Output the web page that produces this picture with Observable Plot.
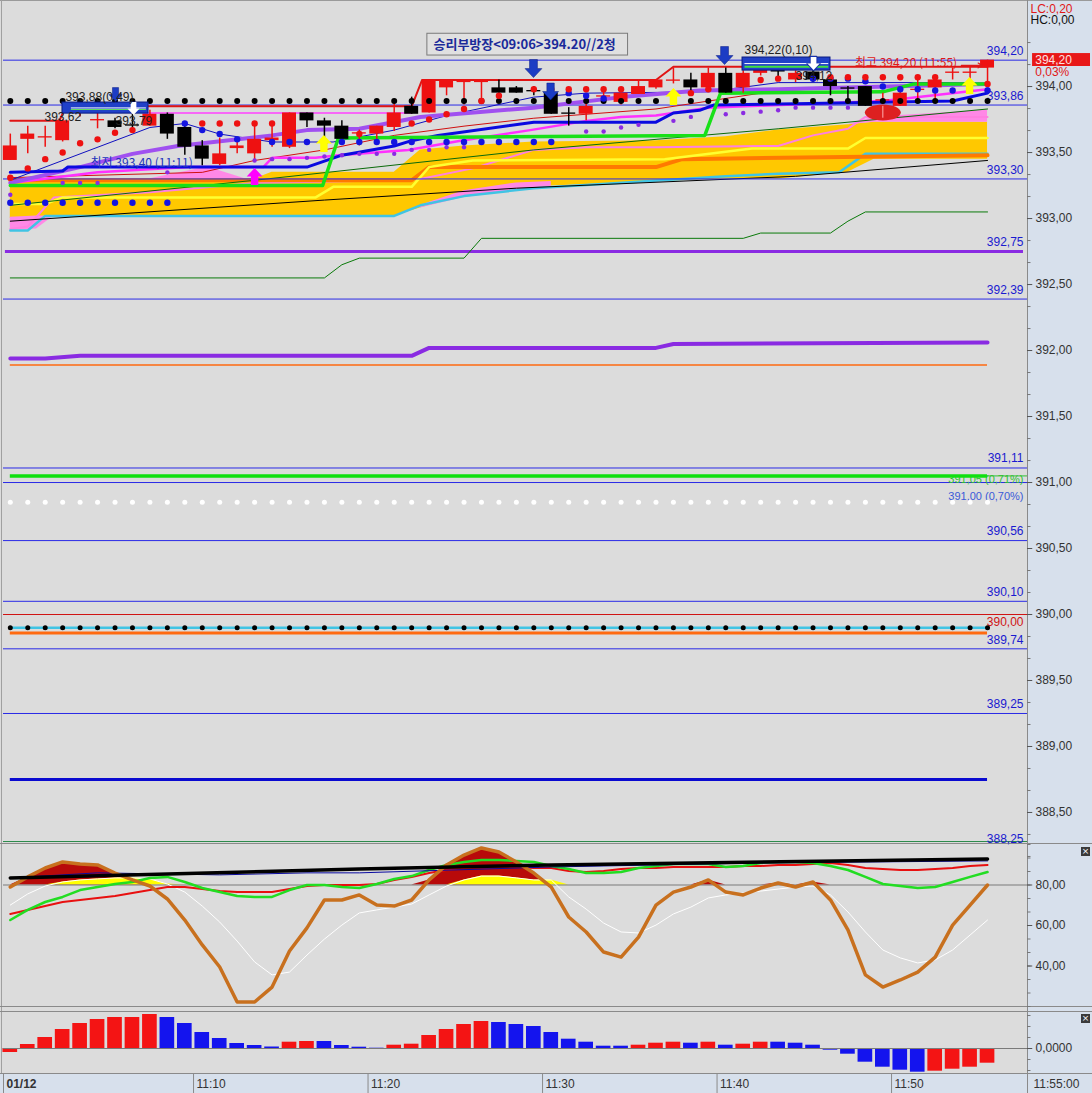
<!DOCTYPE html>
<html><head><meta charset="utf-8">
<script src="https://cdn.jsdelivr.net/npm/d3@7"></script>
<script src="https://cdn.jsdelivr.net/npm/@observablehq/plot@0.6"></script>
<style>
html,body{margin:0;padding:0;background:#dcdcdc;}
#wrap{position:relative;width:1092px;height:1093px;overflow:hidden;background:#dcdcdc;font-family:'Liberation Sans',Arial,sans-serif;}
#wrap svg{position:absolute;left:0;}
.bx{position:absolute;}
.xbtn{position:absolute;width:9px;height:9px;background:#3a3a3a;color:#fff;font:9px/9px 'DejaVu Sans',sans-serif;text-align:center;}
</style></head><body><div id="wrap"></div><script>
// ---------------- DATA ----------------
const barOpen  = [393.44,393.60,393.61,393.59,393.83,393.74,393.74,393.71,393.70,393.79,393.69,393.55,393.41,393.53,393.49,393.59,393.54,393.80,393.74,393.70,393.64,393.64,393.69,393.85,393.80,393.99,394.03,394.03,393.99,393.99,393.97,393.95,393.80,393.79,393.92,393.88,393.94,393.99,394.04,394.05,393.99,394.10,393.99,394.10,394.14,394.05,394.11,394.05,393.99,394.00,393.89,393.85,393.97,393.99,394.10,394.10,394.14];
const barClose = [393.55,393.64,393.62,393.74,393.85,393.75,393.69,393.70,393.79,393.64,393.54,393.45,393.49,393.55,393.60,393.61,393.80,393.74,393.70,393.60,393.65,393.70,393.80,393.79,394.05,394.05,394.05,394.05,393.95,393.95,393.96,393.79,393.79,393.85,393.93,393.95,394.00,394.05,394.05,393.99,394.10,393.95,394.10,394.14,394.11,394.10,394.05,394.00,393.98,393.85,393.90,393.95,393.98,394.05,394.11,394.11,394.20];
const barHigh  = [393.64,393.70,393.70,393.75,393.86,393.80,393.76,393.79,393.82,393.80,393.72,393.59,393.61,393.61,393.72,393.71,393.80,393.80,393.76,393.74,393.67,393.70,393.87,393.92,394.05,394.05,394.05,394.05,394.05,394.00,394.00,394.00,393.84,393.93,393.98,393.95,394.05,394.05,394.14,394.10,394.14,394.14,394.12,394.22,394.17,394.12,394.12,394.08,394.00,394.00,393.95,394.00,394.05,394.05,394.14,394.15,394.20];
const barLow   = [393.44,393.49,393.54,393.58,393.77,393.68,393.68,393.65,393.70,393.60,393.48,393.40,393.40,393.49,393.44,393.54,393.53,393.69,393.61,393.60,393.55,393.58,393.66,393.79,393.80,393.93,393.86,393.89,393.91,393.95,393.93,393.79,393.70,393.74,393.89,393.86,393.94,393.98,394.02,393.93,393.99,393.95,393.95,394.08,394.05,394.03,394.03,393.93,393.89,393.85,393.87,393.85,393.89,393.89,394.05,394.05,394.02];

// dot rows (bar index, price)
const redDotI = [0,1,2,3,4,5,6,7,11,12,13,14,15,20,23,24,25,26,27,28,30,31,32,33,34,35,39,40,43,44,47,48,49,50,51,52,53,56];
const redDotP = [393.31,393.38,393.45,393.50,393.57,393.60,393.65,393.67,393.72,393.72,393.72,393.72,393.72,393.64,393.72,393.75,393.79,393.83,393.89,393.93,393.98,393.98,393.98,393.98,393.98,393.98,393.95,393.98,394.05,394.06,394.07,394.07,394.07,394.07,394.07,394.07,394.07,394.02];
const blueDotI = [0,1,2,3,4,5,6,7,8,9,10,11,12,13,15,16,17,18,19,20,21,22,23,24,25,26,27,28,29,30,31,32,33,34,46,47,48,49,50,51,52,53,54,55,56];
const blueDotP = [393.12,393.12,393.12,393.12,393.12,393.12,393.12,393.12,393.12,393.12,393.72,393.67,393.64,393.60,393.58,393.58,393.58,393.58,393.58,393.58,393.58,393.58,393.58,393.58,393.58,393.58,393.58,393.58,393.58,393.58,393.58,393.95,393.93,393.91,394.06,394.06,394.06,394.04,394.00,393.98,393.98,393.97,393.97,393.97,393.97];
const purpleDotI = [0,3,4,5,9,14,15,16,17,18,19,20,21,22,23,24,25,26,33,34,35,36,38,39,41,42,43,44,45,46,47,48,56];
const purpleDotP = [393.18,393.27,393.27,393.27,393.35,393.44,393.45,393.45,393.46,393.47,393.48,393.49,393.49,393.49,393.52,393.52,393.54,393.54,393.66,393.66,393.69,393.71,393.74,393.77,393.79,393.80,393.81,393.82,393.84,393.84,393.84,393.84,393.98];
const blackDotP = 393.89;   // row of black dots on every bar
const whiteDotP = 390.85;   // row of white dots on every bar
const cyanDotP  = 389.90;   // cyan line with black dots

// cloud (gold) boundaries
const cloudI   = [0,3,14,15,22,23.5,26,30,37,41,44,48,49.5,56];
const cloudTop = [393.29,393.30,393.30,393.35,393.35,393.52,393.55,393.58,393.59,393.62,393.67,393.71,393.73,393.73];
const cloudBot = [393.00,393.02,393.02,393.02,393.02,393.08,393.17,393.24,393.28,393.30,393.30,393.35,393.45,393.45];
const pinkHumpI = [7.6,11.3,13.5], pinkHumpT = [393.29,393.39,393.30], pinkHumpB = [393.29,393.29,393.29];
const pinkLeftI = [0,1.5,2.5],     pinkLeftT = [393.01,393.02,393.02], pinkLeftB = [392.91,392.92,393.02];
const pinkMidI  = [23.5,26,29,31], pinkMidT  = [393.10,393.21,393.27,393.28], pinkMidB = [393.08,393.16,393.21,393.24];
const pinkRightI= [48,49.5,56],    pinkRightT= [393.71,393.77,393.82], pinkRightB = [393.71,393.73,393.73];

// lines (vertices: bar index, price)
const cOrangeI = [0,23,24,37,38.5,56],  cOrangeP = [393.29,393.29,393.39,393.39,393.45,393.48];
const cYellowI = [0,2,3,17.5,18.5,23,24,26.5,37.5,42.5,48,49,56];
const cYellowP = [393.11,393.11,393.16,393.16,393.24,393.24,393.39,393.44,393.45,393.53,393.53,393.61,393.61];
const cCyanI = [0,1,2,22,23.5,26,30,41,44,47.5,49,56];
const cCyanP = [392.91,392.91,393.02,393.02,393.10,393.17,393.23,393.32,393.34,393.35,393.49,393.49];
const cBlackI = [0,18,29,45,56], cBlackP = [392.98,393.14,393.23,393.32,393.44];
const cDkGreenI = [0,14,30,44,56], cDkGreenP = [393.10,393.29,393.52,393.68,393.83];
const cPinkI = [0,1,2.5,8,14,22,23.5,26.5,30,33,37,44,46,48,49,56];
const cPinkP = [392.92,392.94,393.16,393.20,393.27,393.29,393.30,393.38,393.52,393.54,393.54,393.55,393.63,393.68,393.77,393.77];
const greenStepI = [0,17.9,18.8,39.8,40.7,50,51.8,56], greenStepP = [393.25,393.25,393.61,393.63,393.95,393.96,394.02,394.02];
const purpleI = [0,4,7,9.6,15,17,20,23.5,30,35,39.5,44,56];
const purpleP = [393.27,393.39,393.49,393.55,393.63,393.67,393.68,393.77,393.84,393.92,393.97,393.98,394.02];
const blueThickI = [0,3,3.3,17,19,22,23,24.5,30,37,38,39.5,40.3,45,54,56];
const blueThickP = [393.35,393.36,393.39,393.39,393.48,393.55,393.59,393.63,393.73,393.73,393.80,393.82,393.86,393.87,393.89,393.95];
const blueThinI = [0,8,10,12,15,18.5,22,25,30,33,40,44,56];
const blueThinP = [393.29,393.69,393.72,393.64,393.58,393.58,393.67,393.78,393.92,393.95,393.96,394.03,394.03];
const magentaI = [0,5,10.2,14.5,15,17.5,18.8,22.8,25.8,29.8,33,35,37,40,44.1,46,50,56];
const magentaP = [393.27,393.35,393.39,393.39,393.46,393.46,393.48,393.52,393.59,393.67,393.74,393.77,393.78,393.84,393.86,393.87,393.89,393.98];
const magentaThinI = [7.6,23], magentaThinP = [393.80,393.80];
const redStepI = [0,2.8,3.2,23,23.6,37,38,56], redStepP = [393.74,393.74,393.85,393.85,394.05,394.05,394.15,394.15];
const redThinI = [0,11,14,18,22,26,30,37,40,44,56];
const redThinP = [393.31,393.35,393.44,393.52,393.63,393.70,393.76,393.83,393.89,393.97,394.03];
const lowGreenI = [0,18,19,20,26,27,42,43,47,48,49,56];
const lowGreenP = [392.55,392.55,392.65,392.70,392.70,392.85,392.85,392.89,392.89,392.98,393.05,393.05];
const lowPurpleI = [0,2,4,23,24,37,38,56], lowPurpleP = [391.94,391.94,391.96,391.96,392.02,392.02,392.05,392.06];
const lowOrangeP = 391.89, lowGreenThickP = 391.05, lowOrange2P = 389.86, blueThickLevel = 388.75;

// level lines
const lvlP     = [394.20,393.86,393.30,392.75,392.39,391.11,391.05,391.00,390.56,390.10,390.00,389.74,389.25,388.25];
const lvlText  = ["394,20","393,86","393,30","392,75","392,39","391,11","391,05 (0,71%)","391,00 (0,70%)","390,56","390,10","390,00","389,74","389,25","388,25"];
const lvlColor = ["#1a1ad0","#1a1ad0","#1a1ad0","#1a1ad0","#1a1ad0","#1a1ad0","#30c030","#3a5ad8","#1a1ad0","#1a1ad0","#d01414","#1a1ad0","#1a1ad0","#1a1ad0"];
const lvlDy    = [-9,-9,-9,-9,-9,-10,4,14,-9,-9,8,-9,-9,-6];
const lvlSize  = [12,12,12,12,12,12,11,11,12,12,12,12,12,12];
const blueLevels = [394.20,393.86,393.30,392.39,391.11,391.00,390.56,390.10,389.74,389.25];

// annotations
const annText = ["393,88(0,49)","393,62","393,79","394,22(0,10)","394,12"];
const annI = [3.16,1.96,6.03,42.07,45.0];
const annP = [393.917,393.765,393.735,394.273,394.076];
const downArrowI = [6.03,29.98,30.96,40.93,46.03], downArrowP = [393.939,394.136,393.962,394.235,394.174], downArrowR = [7,9,8.5,9,7.5];
const whiteArrowI = [7.06,46.03], whiteArrowP = [393.833,394.174];
const yellowArrowI = [17.97,38.0,54.97], yellowArrowP = [393.568,393.924,394.008];
const magentaArrowI = [14.0], magentaArrowP = [393.318];

// right axes
const mainTicks = [394.0,393.5,393.0,392.5,392.0,391.5,391.0,390.5,390.0,389.5,389.0,388.5];
const oscTicks = [80,60,40];
const histTickLabel = "0,0000";
const timeTicks = [10.5,20.5,30.5,40.5,50.5];
const timeLabels = ["11:10","11:20","11:30","11:40","11:50"];

// oscillator (stochastic-type) per bar
const oscK = [79.0,84.0,88.4,91.4,90.4,89.9,85.9,82.5,79.5,73.1,62.7,50.4,39.5,22.2,22.2,29.6,47.4,58.8,72.6,72.6,75.1,70.1,69.6,72.6,82.5,89.9,94.8,98.3,96.3,91.4,85.9,79.0,64.2,56.8,46.9,44.4,54.3,70.1,76.5,79.0,82.5,76.5,75.1,78.5,81.0,79.0,81.5,72.6,57.8,35.6,29.6,33.1,37.0,44.4,60.2,70.1,80.0];
const oscW = [70.1,75.6,79.5,81.5,82.5,83.0,83.5,83.5,83.0,80.5,76.5,69.6,61.7,52.3,42.0,35.6,37.0,45.4,53.3,60.2,66.2,67.7,69.1,70.6,75.1,79.5,82.5,84.4,84.4,83.5,82.5,82.5,74.1,68.1,61.2,56.8,56.3,60.2,65.7,69.1,73.6,75.1,76.0,77.0,78.0,79.0,79.5,75.1,66.7,56.8,47.9,44.0,41.5,43.0,47.9,55.3,62.7];
const oscG = [62.7,67.7,71.6,74.1,77.5,79.0,80.5,81.5,83.5,84.0,81.5,78.5,76.5,74.6,74.1,74.1,77.5,80.0,80.0,79.0,78.5,80.5,83.0,84.4,87.4,89.9,91.4,92.3,92.3,91.9,91.4,89.4,87.9,85.9,85.9,86.4,88.4,89.4,90.4,90.4,90.4,88.9,89.4,90.9,91.4,91.4,90.9,89.4,87.4,84.0,80.5,79.5,78.5,79.0,81.5,84.0,86.4];
const oscR = [65.7,67.7,69.6,71.6,72.6,73.6,74.6,76.0,77.5,79.0,79.0,78.0,77.0,76.5,76.5,76.5,78.0,79.5,80.0,80.0,80.0,80.5,82.5,84.0,85.9,87.4,88.4,89.4,89.4,88.9,88.4,88.4,86.9,86.4,86.9,87.9,88.4,88.4,88.9,88.9,88.9,88.9,89.4,89.4,89.9,89.9,90.4,90.9,89.9,88.4,87.9,87.4,87.4,87.9,88.4,89.4,89.9];
const oscBlackI = [0,20,31,56], oscBlackV = [83.5,87.9,89.9,92.8];
const oscNavyI = [0,5,12,17,20,31,43,56], oscNavyV = [83.5,86.0,85.0,86.0,86.0,88.9,90.9,91.9];

// histogram
const histV = [-4,4,11,19,25,29,31,31,34,31,25,16,10,5,3,1.5,6.3,7,7,3,1.3,0.3,3.3,4.3,13,19,24,27,26,24,22,16,9.3,6.3,2.3,2.3,3.3,5.3,6.3,5.3,6.3,3.3,4.3,6.3,6.3,5.3,3.3,-1.7,-5.7,-13.7,-18.7,-21.7,-23.7,-22.7,-20.7,-18.7,-14.7];
const histC = "rrrrrrrrrbbbbbbbrrbbbbrrrrrrbbbbbbbbrrrbrbrrbbbbbbbbbrrrr";

// ---------------- BUILD ----------------
const W = 1092, ML = 3, MR = 65;
const XD = [-0.39, 58.29];
const XR = XD[1];
const RED = "#ee1111";
const LVLBLUE = "#2a2ae6";
const fmt2 = v => d3.format(".2f")(v).replace(".", ",");
const pts = (I, P) => I.map((i, k) => ({i, p: P[k]}));
const band = (I, T, B) => I.map((i, k) => ({i, t: T[k], b: B[k]}));
const bars = d3.range(barOpen.length);
const candles = bars.map(i => ({i, o: barOpen[i], c: barClose[i], h: barHigh[i], l: barLow[i], up: barClose[i] >= barOpen[i]}));
const KR = "'Noto Sans CJK KR', sans-serif";
const baseStyle = {background: "transparent", fontFamily: "'Liberation Sans', Arial, sans-serif", fontSize: "12px", overflow: "visible"};

function blockArrow(up) {
  return {draw(ctx, size) {
    const s = Math.sqrt(size / Math.PI) / 8;
    const L = 16 * s, hw = 3.5 * s, hd = 7.5 * s, hl = 8 * s;
    const d = up ? -1 : 1;
    ctx.moveTo(-hw, -d * L / 2);
    ctx.lineTo(hw, -d * L / 2);
    ctx.lineTo(hw, d * (L / 2 - hl));
    ctx.lineTo(hd, d * (L / 2 - hl));
    ctx.lineTo(0, d * L / 2);
    ctx.lineTo(-hd, d * (L / 2 - hl));
    ctx.lineTo(-hw, d * (L / 2 - hl));
    ctx.closePath();
  }};
}
const ellipseSym = {draw(ctx, size) {
  const s = Math.sqrt(size / Math.PI) / 8, rx = 18 * s, ry = 8 * s, k = 0.5523;
  ctx.moveTo(rx, 0);
  ctx.bezierCurveTo(rx, k * ry, k * rx, ry, 0, ry);
  ctx.bezierCurveTo(-k * rx, ry, -rx, k * ry, -rx, 0);
  ctx.bezierCurveTo(-rx, -k * ry, -k * rx, -ry, 0, -ry);
  ctx.bezierCurveTo(k * rx, -ry, rx, -k * ry, rx, 0);
  ctx.closePath();
}};

const minorMain = [];
for (const m of mainTicks.concat([394.5])) for (const f of [1/6, 2/6]) minorMain.push(m - f);

// one text mark per level label (dy must be a constant)
const levelLabelMarks = lvlP.map((p, k) =>
  Plot.text([p], {x: XR, y: d => d, text: () => lvlText[k], fill: lvlColor[k], dy: lvlDy[k], fontSize: lvlSize[k], dx: -4, textAnchor: "end"}));

const main = Plot.plot({
  width: W, height: 843, marginLeft: ML, marginRight: MR, marginTop: 0, marginBottom: 0,
  x: {domain: XD, axis: null}, y: {domain: [388.265, 394.652], axis: null},
  r: {type: "identity"},
  style: baseStyle,
  marks: [
    // cloud
    Plot.areaY(band(cloudI, cloudTop, cloudBot), {x: "i", y1: "b", y2: "t", fill: "#ffc800"}),
    Plot.areaY(band(pinkLeftI, pinkLeftT, pinkLeftB), {x: "i", y1: "b", y2: "t", fill: "#ff88e6"}),
    Plot.areaY(band(pinkHumpI, pinkHumpT, pinkHumpB), {x: "i", y1: "b", y2: "t", fill: "#ff88e6"}),
    Plot.areaY(band(pinkMidI, pinkMidT, pinkMidB), {x: "i", y1: "b", y2: "t", fill: "#ff88e6"}),
    Plot.areaY(band(pinkRightI, pinkRightT, pinkRightB), {x: "i", y1: "b", y2: "t", fill: "#ff88e6"}),
    Plot.line(pts(cPinkI, cPinkP), {x: "i", y: "p", stroke: "#ff80e0", strokeWidth: 2}),
    Plot.line(pts(cCyanI, cCyanP), {x: "i", y: "p", stroke: "#40c4e4", strokeWidth: 2.5}),
    Plot.line(pts(cOrangeI, cOrangeP), {x: "i", y: "p", stroke: "#ff7a00", strokeWidth: 4}),
    Plot.line(pts(cYellowI, cYellowP), {x: "i", y: "p", stroke: "#ffff30", strokeWidth: 2.5}),
    Plot.line(pts(cBlackI, cBlackP), {x: "i", y: "p", stroke: "#000", strokeWidth: 1}),
    Plot.line(pts(cDkGreenI, cDkGreenP), {x: "i", y: "p", stroke: "#0a6a0a", strokeWidth: 1}),
    // level lines
    Plot.ruleY(blueLevels, {stroke: LVLBLUE, strokeWidth: 1}),
    Plot.ruleY([390.00], {stroke: "#d01414", strokeWidth: 1}),
    Plot.ruleY([391.05], {x1: 50, x2: XR, stroke: "#30c030", strokeWidth: 1}),
    Plot.ruleY([392.75], {x1: -0.28, x2: 58.06, stroke: "#8a2be2", strokeWidth: 3}),
    Plot.ruleY([388.28], {stroke: "#2a8a4a", strokeWidth: 1}),
    ...levelLabelMarks,
    // lower panel lines
    Plot.line(pts(lowGreenI, lowGreenP), {x: "i", y: "p", stroke: "#0a7a0a", strokeWidth: 1}),
    Plot.line(pts(lowPurpleI, lowPurpleP), {x: "i", y: "p", stroke: "#8a2be2", strokeWidth: 4}),
    Plot.ruleY([lowOrangeP], {x1: 0, x2: 56, stroke: "#ff6a10", strokeWidth: 1.5}),
    Plot.ruleY([lowGreenThickP], {x1: 0, x2: 56, stroke: "#10e010", strokeWidth: 3.5}),
    Plot.dot(bars, {x: d => d, y: whiteDotP, r: 2.5, fill: "#ffffff", stroke: "none"}),
    Plot.ruleY([cyanDotP], {x1: 0, x2: 56, stroke: "#40c4e4", strokeWidth: 2.5}),
    Plot.ruleY([lowOrange2P], {x1: 0, x2: 56, stroke: "#ff6a10", strokeWidth: 3}),
    Plot.dot(bars, {x: d => d, y: cyanDotP, r: 2.5, fill: "#000", stroke: "none"}),
    Plot.ruleY([blueThickLevel], {x1: 0, x2: 56, stroke: "#0a0ad0", strokeWidth: 3}),
    // upper indicator lines
    Plot.line(pts(redThinI, redThinP), {x: "i", y: "p", stroke: "#d01010", strokeWidth: 1}),
    Plot.line(pts(blueThinI, blueThinP), {x: "i", y: "p", stroke: "#1010c0", strokeWidth: 1}),
    Plot.line(pts(magentaI, magentaP), {x: "i", y: "p", stroke: "#ff30ff", strokeWidth: 2.5}),
    Plot.line(pts(magentaThinI, magentaThinP), {x: "i", y: "p", stroke: "#ff40ff", strokeWidth: 1.5}),
    Plot.line(pts(purpleI, purpleP), {x: "i", y: "p", stroke: "#a050f0", strokeWidth: 4}),
    Plot.line(pts(blueThickI, blueThickP), {x: "i", y: "p", stroke: "#0a0ae0", strokeWidth: 3}),
    Plot.line(pts(greenStepI, greenStepP), {x: "i", y: "p", stroke: "#18e018", strokeWidth: 3.5}),
    Plot.line(pts(redStepI, redStepP), {x: "i", y: "p", stroke: "#e01414", strokeWidth: 2}),
    // candles
    Plot.ruleX(candles.filter(d => d.up), {x: "i", y1: "l", y2: "h", stroke: RED, strokeWidth: 1.5}),
    Plot.ruleX(candles.filter(d => !d.up), {x: "i", y1: "l", y2: "h", stroke: "#000", strokeWidth: 1.5}),
    Plot.rect(candles.filter(d => d.up), {x1: d => d.i - 0.4, x2: d => d.i + 0.4, y1: "o", y2: "c", fill: RED}),
    Plot.rect(candles.filter(d => !d.up), {x1: d => d.i - 0.4, x2: d => d.i + 0.4, y1: "o", y2: "c", fill: "#000"}),
    // dots
    Plot.dot(bars, {x: d => d, y: blackDotP, r: 3, fill: "#000", stroke: "none"}),
    Plot.dot(pts(purpleDotI, purpleDotP), {x: "i", y: "p", r: 2.2, fill: "#8a2be2", stroke: "none"}),
    Plot.dot(pts(blueDotI, blueDotP), {x: "i", y: "p", r: 3.2, fill: "#1414e0", stroke: "none"}),
    Plot.dot(pts(redDotI, redDotP), {x: "i", y: "p", r: 3.2, fill: RED, stroke: "none"}),
    // boxes
    Plot.rect([0], {x1: 2.99, x2: 7.92, y1: 393.795, y2: 393.879, fill: "#2040c8", stroke: "#0a1a80"}),
    Plot.ruleY([393.838], {x1: 3.5, x2: 7.8, stroke: "#ffffff", strokeWidth: 1}),
    Plot.ruleY([393.826], {x1: 3.5, x2: 7.8, stroke: "#60e060", strokeWidth: 1}),
    Plot.rect([0], {x1: 41.96, x2: 47.0, y1: 394.121, y2: 394.22, fill: "#2040c8", stroke: "#0a1a80"}),
    Plot.ruleY([394.174], {x1: 42.1, x2: 46.9, stroke: "#ffffff", strokeWidth: 1}),
    Plot.ruleY([394.150], {x1: 42.1, x2: 46.9, stroke: "#40e040", strokeWidth: 2}),
    // markers
    Plot.dot(pts(downArrowI, downArrowP), {x: "i", y: "p", r: (d, k) => downArrowR[k], symbol: blockArrow(false), fill: "#1c3cc4", stroke: "#0a1a80", strokeWidth: 0.5}),
    Plot.dot(pts(whiteArrowI, whiteArrowP), {x: "i", y: "p", r: 6.5, symbol: blockArrow(false), fill: "#ffffff", stroke: "none"}),
    Plot.dot(pts(yellowArrowI, yellowArrowP), {x: "i", y: "p", r: 8.5, symbol: blockArrow(true), fill: "#ffff00", stroke: "none"}),
    Plot.dot(pts(magentaArrowI, magentaArrowP), {x: "i", y: "p", r: 8.5, symbol: blockArrow(true), fill: "#ff00ff", stroke: "none"}),
    Plot.dot([0], {x: 50, y: 393.803, r: 8, symbol: ellipseSym, fill: "#dd2020", stroke: "none"}),
    Plot.ruleX([50], {y1: 393.76, y2: 393.85, stroke: "#ffb0b0", strokeWidth: 1}),
    // texts
    Plot.text(pts(annI, annP), {x: "i", y: "p", text: (d, k) => annText[k], textAnchor: "start", fill: "#222"}),
    Plot.text([0], {x: 4.6, y: 393.417, text: () => "최저 393,40 (11:11)", textAnchor: "start", fill: "#2233bb", fontFamily: KR, fontSize: 12}),
    Plot.text([0], {x: 48.4, y: 394.174, text: () => "최고 394,20 (11:55)", textAnchor: "start", fill: "#e01818", fontFamily: KR, fontSize: 12}),
    Plot.arrow([0], {x1: 54.5, y1: 394.16, x2: 55.7, y2: 394.16, stroke: "#e01818", strokeWidth: 1.2, headLength: 6}),
    Plot.rect([0], {x1: 23.9, x2: 35.4, y1: 394.235, y2: 394.40, fill: "#e0e0e0", stroke: "#7a7a7a"}),
    Plot.text([0], {x: 24.25, y: 394.318, text: () => "승리부방장<09:06>394.20//2청", textAnchor: "start", fill: "#1a2a9a", fontFamily: KR, fontSize: 13, fontWeight: "bold"}),
    // right axis
    Plot.ruleY(mainTicks, {x1: XR, x2: XR + 0.3, stroke: "#555"}),
    Plot.ruleY(minorMain, {x1: XR, x2: XR + 0.2, stroke: "#777"}),
    Plot.text(mainTicks, {x: XR, y: d => d, text: d => fmt2(d), dx: 8, textAnchor: "start", fill: "#333"}),
    Plot.rect([0], {x1: 58.58, x2: 61.9, y1: 394.152, y2: 394.25, fill: "#e81818"}),
    Plot.text([394.20], {x: 58.62, y: d => d, text: d => fmt2(d), dx: 2, textAnchor: "start", fill: "#ffe0e0"}),
    Plot.text(["0,03%"], {x: 58.62, y: 394.106, text: d => d, dx: 2, textAnchor: "start", fill: "#e01818"}),
    Plot.text(["LC:0,20"], {x: 58.46, y: 394.59, text: d => d, textAnchor: "start", fill: "#e01818"}),
    Plot.text(["HC:0,00"], {x: 58.46, y: 394.50, text: d => d, textAnchor: "start", fill: "#111"})
  ]
});

const minorOsc = d3.range(20, 100.01, 20 / 3);
const oscRows = bars.map(i => ({i, k: oscK[i], w: oscW[i], g: oscG[i], r: oscR[i]}));
const osc = Plot.plot({
  width: W, height: 162, marginLeft: ML, marginRight: MR, marginTop: 0, marginBottom: 0,
  x: {domain: XD, axis: null}, y: {domain: [20, 100], axis: null},
  style: baseStyle,
  marks: [
    Plot.areaY(oscRows, {x: "i", y1: 80, y2: d => Math.max(80, d.k), fill: "#b80a0a"}),
    Plot.areaY(oscRows, {x: "i", y1: 80, y2: d => Math.max(80, d.w), fill: "#ffff00"}),
    Plot.ruleY([80], {stroke: "#7a7a7a"}),
    Plot.line(oscRows, {x: "i", y: "w", stroke: "#ffffff", strokeWidth: 1}),
    Plot.line(oscRows, {x: "i", y: "r", stroke: "#e81010", strokeWidth: 2}),
    Plot.line(oscRows, {x: "i", y: "g", stroke: "#22dd22", strokeWidth: 2.5}),
    Plot.line(pts(oscNavyI, oscNavyV), {x: "i", y: "p", stroke: "#0a0aa0", strokeWidth: 1}),
    Plot.line(oscRows, {x: "i", y: "k", stroke: "#c8701e", strokeWidth: 3.5}),
    Plot.line(pts(oscBlackI, oscBlackV), {x: "i", y: "p", stroke: "#000", strokeWidth: 3.5}),
    Plot.ruleY(minorOsc, {x1: XR, x2: XR + 0.2, stroke: "#777"}),
    Plot.ruleY(oscTicks, {x1: XR, x2: XR + 0.3, stroke: "#555"}),
    Plot.text(oscTicks, {x: XR, y: d => d, text: d => fmt2(d), dx: 8, textAnchor: "start", fill: "#333"})
  ]
});

const histRows = bars.map(i => ({i, v: histV[i], c: histC[i]}));
const hist = Plot.plot({
  width: W, height: 62, marginLeft: ML, marginRight: MR, marginTop: 0, marginBottom: 0,
  x: {domain: XD, axis: null}, y: {domain: [-25, 37], axis: null},
  style: baseStyle,
  marks: [
    Plot.rect(histRows.filter(d => d.c === "r"), {x1: d => d.i - 0.42, x2: d => d.i + 0.42, y1: 0, y2: "v", fill: "#f41414"}),
    Plot.rect(histRows.filter(d => d.c === "b"), {x1: d => d.i - 0.42, x2: d => d.i + 0.42, y1: 0, y2: "v", fill: "#1414ee"}),
    Plot.ruleY([0], {stroke: "#7a7a7a"}),
    Plot.ruleY([-22, -11, 11, 22, 33], {x1: XR, x2: XR + 0.2, stroke: "#777"}),
    Plot.ruleY([0], {x1: XR, x2: XR + 0.3, stroke: "#555"}),
    Plot.text([0], {x: XR, y: 0, text: () => histTickLabel, dx: 8, textAnchor: "start", fill: "#333"})
  ]
});

const xaxis = Plot.plot({
  width: W, height: 19, marginLeft: ML, marginRight: MR, marginTop: 0, marginBottom: 0,
  x: {domain: XD, axis: null}, y: {domain: [0, 1], axis: null},
  style: baseStyle,
  marks: [
    Plot.ruleX(timeTicks, {y1: 0, y2: 1, stroke: "#8a8a8a"}),
    Plot.text(timeTicks, {x: d => d, y: 0.5, text: (d, k) => timeLabels[k], dx: 3, textAnchor: "start", fill: "#333"}),
    Plot.text(["01/12"], {x: XD[0], y: 0.5, text: d => d, dx: 3, textAnchor: "start", fill: "#333", fontWeight: "bold"}),
    Plot.text(["11:55:00"], {x: XR, y: 0.5, text: d => d, dx: 6, textAnchor: "start", fill: "#333"})
  ]
});

// -------------- LAYOUT --------------
const wrap = document.getElementById("wrap");
function box(l, t, w, h, bg) { const d = document.createElement("div"); d.className = "bx"; Object.assign(d.style, {left: l + "px", top: t + "px", width: w + "px", height: h + "px", background: bg}); wrap.appendChild(d); }
box(1028, 0, 64, 1093, "#d7e0ec");
box(0, 1074, 1092, 19, "#d7e0ec");
box(0, 0, 1092, 1, "#9a9a9a");
box(1, 0, 1, 1074, "#a0a0a0");
box(1027, 0, 1, 1093, "#8a8a8a");
box(0, 843, 1092, 1, "#8a8a8a");
box(0, 1006, 1092, 1, "#8a8a8a");
box(0, 1011, 1092, 1, "#8a8a8a");
box(0, 1073, 1092, 1, "#8a8a8a");
box(3, 1074, 1, 19, "#8a8a8a");
const place = (svg, top) => { svg.style.top = top + "px"; wrap.appendChild(svg); };
place(main, 0); place(osc, 844); place(hist, 1011); place(xaxis, 1074);
for (const t of [847, 1014]) { const d = document.createElement("div"); d.className = "xbtn"; d.style.left = "1081px"; d.style.top = t + "px"; d.textContent = "×"; wrap.appendChild(d); }
</script></body></html>
